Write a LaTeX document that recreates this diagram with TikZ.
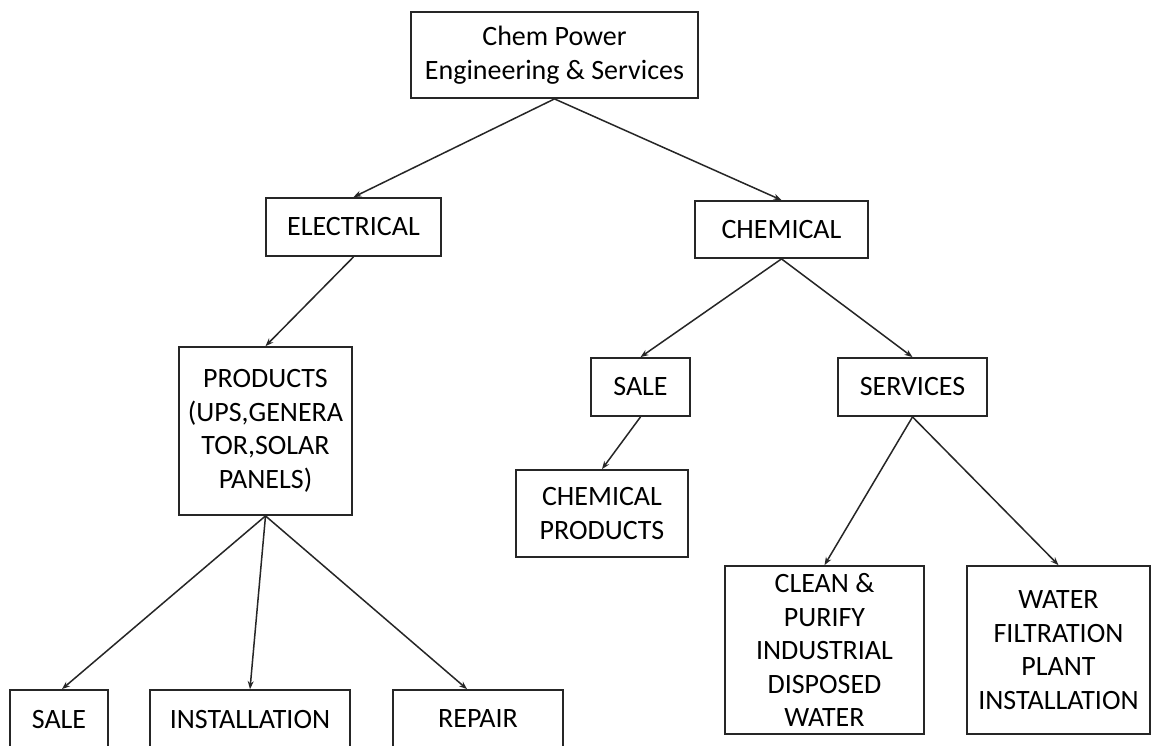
\documentclass[tikz,border=0pt]{standalone}
\usepackage{fontspec}
\setmainfont{Carlito}
\usetikzlibrary{arrows.meta}
\begin{document}
\begin{tikzpicture}[x=1pt,y=-1pt,
  box/.style={draw=black!85,line width=1.8pt,inner sep=0pt,align=center,
    font=\fontsize{28}{33.5}\selectfont,text=black},
  conn/.style={line width=1.5pt,draw=black!85,-{Stealth[length=8pt,width=6pt]}}]
\useasboundingbox (0,0) rectangle (1161,745);
\clip (0,0) rectangle (1161,745);
\fill[white] (0,0) rectangle (1161,745);
\node[box,minimum width=287pt,minimum height=86pt] (top) at (554.5,55) {Chem Power\\Engineering \& Services};
\node[box,minimum width=175pt,minimum height=58pt] (elec) at (353.5,227) {ELECTRICAL};
\node[box,minimum width=173pt,minimum height=57pt] (chem) at (781.5,229.5) {CHEMICAL};
\node[box,minimum width=173pt,minimum height=168pt] (prod) at (265.5,431) {PRODUCTS\\(UPS,GENERA\\TOR,SOLAR\\PANELS)};
\node[box,minimum width=99pt,minimum height=58pt] (csale) at (640.5,387) {SALE};
\node[box,minimum width=149pt,minimum height=58pt] (serv) at (912.5,387) {SERVICES};
\node[box,minimum width=172pt,minimum height=87pt] (cprod) at (602,513.5) {CHEMICAL\\PRODUCTS};
\node[box,minimum width=199pt,minimum height=168pt] (clean) at (824.5,650) {CLEAN \&\\PURIFY\\INDUSTRIAL\\DISPOSED\\WATER};
\node[box,minimum width=183pt,minimum height=168pt] (water) at (1058.5,650) {WATER\\FILTRATION\\PLANT\\INSTALLATION};
\node[box,minimum width=98pt,minimum height=58pt] (esale) at (59,719) {SALE};
\node[box,minimum width=200pt,minimum height=58pt] (inst) at (250,719) {INSTALLATION};
\node[box,minimum width=170pt,minimum height=58pt] (rep) at (478,719) {REPAIR};
\draw[conn] (top.south) -- (elec.north);
\draw[conn] (top.south) -- (chem.north);
\draw[conn] (elec.south) -- (prod.north);
\draw[conn] (chem.south) -- (csale.north);
\draw[conn] (chem.south) -- (serv.north);
\draw[conn] (csale.south) -- (cprod.north);
\draw[conn] (serv.south) -- (clean.north);
\draw[conn] (serv.south) -- (water.north);
\draw[conn] (prod.south) -- ([xshift=3pt]esale.north);
\draw[conn] (prod.south) -- (inst.north);
\draw[conn] (prod.south) -- ([xshift=-11pt]rep.north);
\end{tikzpicture}
\end{document}
